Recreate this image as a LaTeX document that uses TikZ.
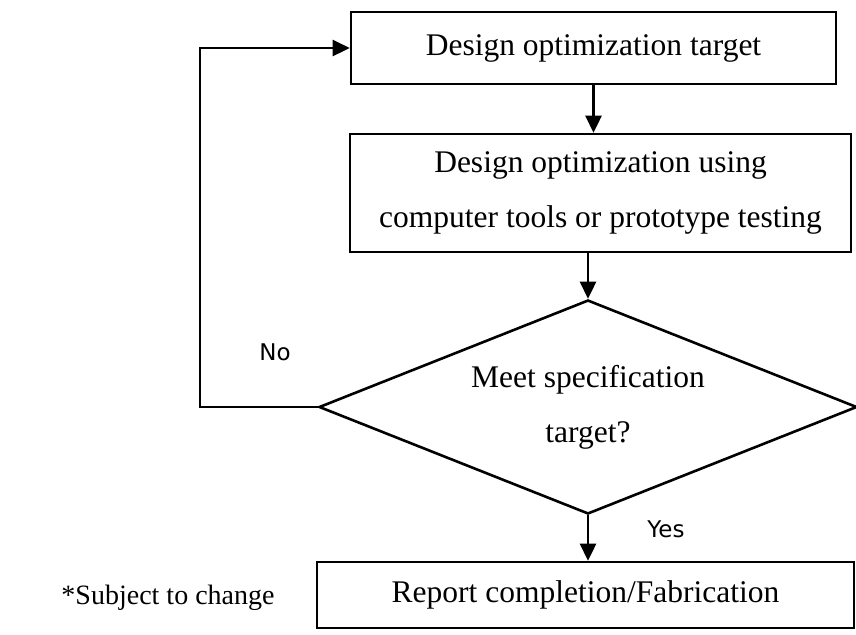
\documentclass[tikz,border=0pt]{standalone}
\usepackage{fontspec}
\setmainfont{Liberation Serif}
\newfontfamily\labelfont{DejaVu Sans}
\usetikzlibrary{shapes.geometric,arrows.meta,positioning}
\tikzset{stepbox/.style={draw=black, rectangle, inner sep=0pt, align=center,
font=\fontsize{15.75}{27.5}\selectfont},
decision/.style={draw=black, diamond, aspect=2.5, inner sep=0pt, align=center,
font=\fontsize{15.75}{27.5}\selectfont},
arr/.style={-{Triangle[length=8.5pt,width=8pt]}},
lbl/.style={font=\labelfont\fontsize{11.5}{14}\selectfont, inner sep=0pt}}

\begin{document}
\begin{tikzpicture}[x=0.5pt,y=-0.5pt,line width=1.3pt]
\useasboundingbox (0,0) rectangle (856,634);

% the steps

    \node[stepbox, minimum width=242.5pt, minimum height=36pt] (target) at (593.5,48) {Design optimization target};
    \node[stepbox, minimum width=250.5pt, minimum height=59pt] (optim) at (600.5,193) {Design optimization using\\computer tools or prototype testing};
    \node[decision, minimum width=269pt, minimum height=107pt] (check) at (588,407) {Meet specification\\target?};
    \node[stepbox, minimum width=268.5pt, minimum height=33pt] (report) at (585.5,595) {Report completion/Fabrication};

% the answers

    \node[lbl] (no) at (275,352) {No};
    \node[lbl] (yes) at (666,529) {Yes};
    \node[font=\fontsize{14}{16}\selectfont, inner sep=0pt] (note) at (168,598) {*Subject to change};

% the flow

    \coordinate (loop) at (200,407);
    \draw[arr] (check.west) -- (loop) |- (target.west);
    \draw[arr] (target.south) -- (target.south |- optim.north);
    \draw[arr] (optim.south -| check.north) -- (check.north);
    \draw[arr] (check.south) -- (check.south |- report.north);

\end{tikzpicture}
\end{document}
